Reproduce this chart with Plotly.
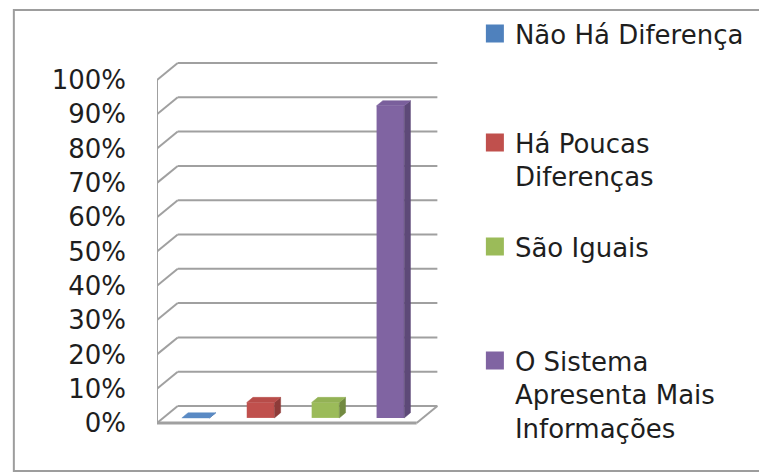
import plotly.graph_objects as go

# ---- data -------------------------------------------------------------
categories = [
    "Não Há Diferença",
    "Há Poucas<br>Diferenças",
    "São Iguais",
    "O Sistema<br>Apresenta Mais<br>Informações",
]
percentages = [0.0, 4.5, 4.5, 91.0]
tick_values = [0, 10, 20, 30, 40, 50, 60, 70, 80, 90, 100]
tick_labels = [f"{v}%" for v in tick_values]

# ---- styling ----------------------------------------------------------
front_colors = ["#4F81BD", "#C0504D", "#9BBB59", "#8064A2"]
top_colors = ["#5A8AC4", "#B84C49", "#93B255", "#7A5F9C"]
side_colors = ["#3A6190", "#8E3B39", "#728A41", "#5D4978"]
grid_color = "#a0a0a0"
text_color = "#1e1e1e"
font_family = "'DejaVu Sans', sans-serif"
font_size = 26

# ---- geometry of the pseudo-3D frame (pixels) --------------------------
W, H = 759, 474
PLOT_L, PLOT_R, PLOT_T, PLOT_B = 157, 470, 10, 460
PX_PER_CAT = 65.75
PX_PER_PCT = 3.43
ZERO_PY = 423
DEPTH_PX_X, DEPTH_PX_Y = 21, 17

DX = DEPTH_PX_X / PX_PER_CAT   # depth shift in category units
DY = DEPTH_PX_Y / PX_PER_PCT   # depth shift in percent units
X_RANGE = [-0.5, -0.5 + (PLOT_R - PLOT_L) / PX_PER_CAT]
Y_RANGE = [-(PLOT_B - ZERO_PY) / PX_PER_PCT, (ZERO_PY - PLOT_T) / PX_PER_PCT]

BAR_HALF = 0.213
Z_FRONT, Z_BACK = 0.3, 0.6
X_MIN, X_MAX = -0.5, len(categories) - 0.5


def proj(x, y, z):
    """Oblique projection: depth z in [0, 1] shifts right and up."""
    return x + DX * z, y + DY * z


def px_to_paper_x(px):
    return (px - PLOT_L) / (PLOT_R - PLOT_L)


def px_to_paper_y(py):
    return (PLOT_B - py) / (PLOT_B - PLOT_T)


fig = go.Figure()
shapes = []


def line_shape(p0, p1, width=2, color=grid_color):
    shapes.append(dict(type="line", xref="x", yref="y", layer="below",
                       x0=p0[0], y0=p0[1], x1=p1[0], y1=p1[1],
                       line=dict(color=color, width=width)))


# walls: gridlines on the left wall and back wall
for v in tick_values:
    line_shape(proj(X_MIN, v, 0), proj(X_MIN, v, 1))
    line_shape(proj(X_MIN, v, 1), proj(X_MAX, v, 1))
# left wall front edge
line_shape(proj(X_MIN, 0, 0), proj(X_MIN, tick_values[-1], 0))
# floor
line_shape(proj(X_MIN, 0, 0), proj(X_MAX, 0, 0), width=3)
line_shape(proj(X_MAX, 0, 0), proj(X_MAX, 0, 1))

# outer chart border
shapes.append(dict(type="rect", xref="paper", yref="paper", layer="below",
                   x0=px_to_paper_x(12), x1=px_to_paper_x(775),
                   y0=px_to_paper_y(471), y1=px_to_paper_y(10),
                   line=dict(color="#9d9d9d", width=2)))

legend_names = ["legend", "legend2", "legend3", "legend4"]

for i, (name, val) in enumerate(zip(categories, percentages)):
    # front face
    fig.add_trace(go.Bar(
        x=[i + DX * Z_FRONT], y=[val], base=[DY * Z_FRONT],
        width=2 * BAR_HALF, name=name, showlegend=False,
        marker=dict(color=front_colors[i], line=dict(width=0)),
        hoverinfo="skip",
    ))
    # right side face
    pts = [proj(i + BAR_HALF, 0, Z_FRONT), proj(i + BAR_HALF, 0, Z_BACK),
           proj(i + BAR_HALF, val, Z_BACK), proj(i + BAR_HALF, val, Z_FRONT)]
    fig.add_trace(go.Scatter(
        x=[p[0] for p in pts] + [pts[0][0]], y=[p[1] for p in pts] + [pts[0][1]],
        fill="toself", fillcolor=side_colors[i], mode="lines",
        line=dict(width=0.5, color=side_colors[i]), showlegend=False, hoverinfo="skip",
    ))
    # top face
    pts = [proj(i - BAR_HALF, val, Z_FRONT), proj(i + BAR_HALF, val, Z_FRONT),
           proj(i + BAR_HALF, val, Z_BACK), proj(i - BAR_HALF, val, Z_BACK)]
    fig.add_trace(go.Scatter(
        x=[p[0] for p in pts] + [pts[0][0]], y=[p[1] for p in pts] + [pts[0][1]],
        fill="toself", fillcolor=top_colors[i], mode="lines",
        line=dict(width=0.5, color=top_colors[i]), showlegend=False, hoverinfo="skip",
    ))
    # legend entry with a square swatch in the series colour
    fig.add_trace(go.Scatter(
        x=[None], y=[None], mode="markers", name=name, legend=legend_names[i],
        marker=dict(symbol="square", size=16, color=front_colors[i],
                    line=dict(width=2, color=front_colors[i])),
        hoverinfo="skip",
    ))

legend_top_px = [10, 119, 223, 337]
legend_common = dict(
    xanchor="left", yanchor="top", valign="top",
    bgcolor="rgba(0,0,0,0)", borderwidth=0,
    font=dict(family=font_family, size=font_size, color=text_color),
    itemclick=False, itemdoubleclick=False,
)
legend_layouts = {}
for name, top in zip(legend_names, legend_top_px):
    legend_layouts[name] = dict(legend_common, x=px_to_paper_x(479), y=px_to_paper_y(top))

fig.update_layout(
    width=W, height=H,
    margin=dict(l=PLOT_L, r=W - PLOT_R, t=PLOT_T, b=H - PLOT_B),
    paper_bgcolor="white", plot_bgcolor="rgba(0,0,0,0)",
    barmode="overlay", showlegend=True,
    xaxis=dict(range=X_RANGE, visible=False, fixedrange=True),
    yaxis=dict(
        range=Y_RANGE, tickvals=tick_values, ticktext=tick_labels,
        showgrid=False, zeroline=False, showline=False, ticks="",
        ticklabelstandoff=30,
        tickfont=dict(family=font_family, size=font_size, color=text_color),
        fixedrange=True,
    ),
    shapes=shapes,
    **legend_layouts,
)

fig.write_html("out.html")
